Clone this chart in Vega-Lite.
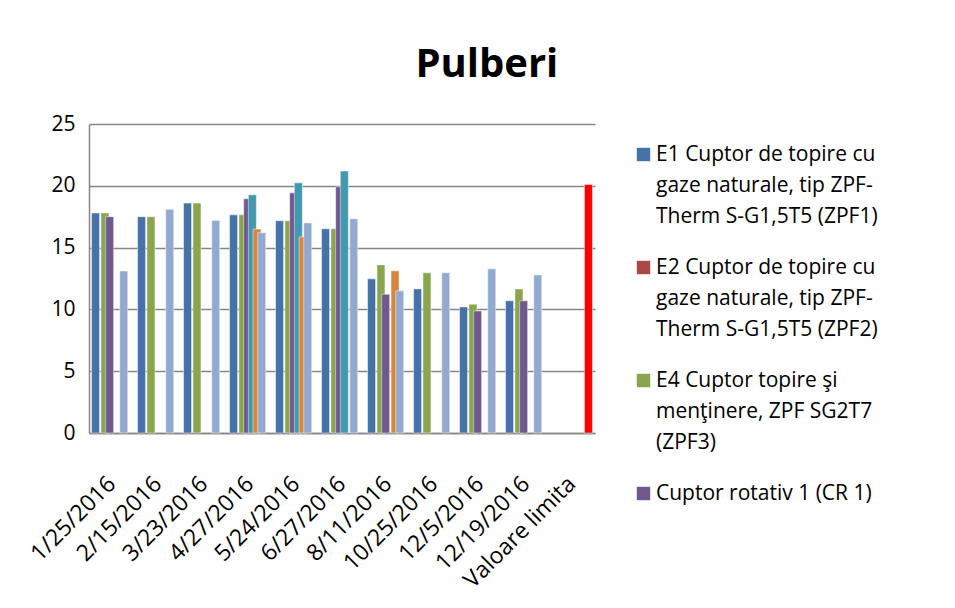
{
  "$schema": "https://vega.github.io/schema/vega-lite/v6.json",
  "width": 506,
  "height": 309,
  "padding": {"left": 26, "top": 45, "right": 5, "bottom": 5},
  "background": "white",
  "title": {
    "text": "Pulberi",
    "fontSize": 40,
    "font": "Open Sans",
    "fontWeight": "bold",
    "color": "#000000",
    "anchor": "middle",
    "frame": "bounds",
    "offset": 28,
    "dx": 19
  },
  "data": {
    "values": [
      {"data": "1/25/2016", "serie": "E1 Cuptor de topire cu gaze naturale, tip ZPF-Therm S-G1,5T5 (ZPF1)", "valoare": 17.8},
      {"data": "1/25/2016", "serie": "E4 Cuptor topire şi menţinere, ZPF SG2T7 (ZPF3)", "valoare": 17.8},
      {"data": "1/25/2016", "serie": "Cuptor rotativ 1 (CR 1)", "valoare": 17.5},
      {"data": "1/25/2016", "serie": "Cuptor rotativ 4 (CR 4)", "valoare": 13.1},
      {"data": "2/15/2016", "serie": "E1 Cuptor de topire cu gaze naturale, tip ZPF-Therm S-G1,5T5 (ZPF1)", "valoare": 17.5},
      {"data": "2/15/2016", "serie": "E4 Cuptor topire şi menţinere, ZPF SG2T7 (ZPF3)", "valoare": 17.5},
      {"data": "2/15/2016", "serie": "Cuptor rotativ 4 (CR 4)", "valoare": 18.1},
      {"data": "3/23/2016", "serie": "E1 Cuptor de topire cu gaze naturale, tip ZPF-Therm S-G1,5T5 (ZPF1)", "valoare": 18.6},
      {"data": "3/23/2016", "serie": "E4 Cuptor topire şi menţinere, ZPF SG2T7 (ZPF3)", "valoare": 18.6},
      {"data": "3/23/2016", "serie": "Cuptor rotativ 4 (CR 4)", "valoare": 17.2},
      {"data": "4/27/2016", "serie": "E1 Cuptor de topire cu gaze naturale, tip ZPF-Therm S-G1,5T5 (ZPF1)", "valoare": 17.65},
      {"data": "4/27/2016", "serie": "E4 Cuptor topire şi menţinere, ZPF SG2T7 (ZPF3)", "valoare": 17.65},
      {"data": "4/27/2016", "serie": "Cuptor rotativ 1 (CR 1)", "valoare": 18.95},
      {"data": "4/27/2016", "serie": "Cuptor rotativ 2 (CR 2)", "valoare": 19.27},
      {"data": "4/27/2016", "serie": "Cuptor rotativ 3 (CR 3)", "valoare": 16.5},
      {"data": "4/27/2016", "serie": "Cuptor rotativ 4 (CR 4)", "valoare": 16.2},
      {"data": "5/24/2016", "serie": "E1 Cuptor de topire cu gaze naturale, tip ZPF-Therm S-G1,5T5 (ZPF1)", "valoare": 17.17},
      {"data": "5/24/2016", "serie": "E4 Cuptor topire şi menţinere, ZPF SG2T7 (ZPF3)", "valoare": 17.17},
      {"data": "5/24/2016", "serie": "Cuptor rotativ 1 (CR 1)", "valoare": 19.43},
      {"data": "5/24/2016", "serie": "Cuptor rotativ 2 (CR 2)", "valoare": 20.24},
      {"data": "5/24/2016", "serie": "Cuptor rotativ 3 (CR 3)", "valoare": 15.87},
      {"data": "5/24/2016", "serie": "Cuptor rotativ 4 (CR 4)", "valoare": 17.0},
      {"data": "6/27/2016", "serie": "E1 Cuptor de topire cu gaze naturale, tip ZPF-Therm S-G1,5T5 (ZPF1)", "valoare": 16.52},
      {"data": "6/27/2016", "serie": "E4 Cuptor topire şi menţinere, ZPF SG2T7 (ZPF3)", "valoare": 16.52},
      {"data": "6/27/2016", "serie": "Cuptor rotativ 1 (CR 1)", "valoare": 19.92},
      {"data": "6/27/2016", "serie": "Cuptor rotativ 2 (CR 2)", "valoare": 21.19},
      {"data": "6/27/2016", "serie": "Cuptor rotativ 4 (CR 4)", "valoare": 17.33},
      {"data": "8/11/2016", "serie": "E1 Cuptor de topire cu gaze naturale, tip ZPF-Therm S-G1,5T5 (ZPF1)", "valoare": 12.47},
      {"data": "8/11/2016", "serie": "E4 Cuptor topire şi menţinere, ZPF SG2T7 (ZPF3)", "valoare": 13.6},
      {"data": "8/11/2016", "serie": "Cuptor rotativ 1 (CR 1)", "valoare": 11.23},
      {"data": "8/11/2016", "serie": "Cuptor rotativ 3 (CR 3)", "valoare": 13.12},
      {"data": "8/11/2016", "serie": "Cuptor rotativ 4 (CR 4)", "valoare": 11.5},
      {"data": "10/25/2016", "serie": "E1 Cuptor de topire cu gaze naturale, tip ZPF-Therm S-G1,5T5 (ZPF1)", "valoare": 11.66},
      {"data": "10/25/2016", "serie": "E4 Cuptor topire şi menţinere, ZPF SG2T7 (ZPF3)", "valoare": 12.96},
      {"data": "10/25/2016", "serie": "Cuptor rotativ 4 (CR 4)", "valoare": 12.96},
      {"data": "12/5/2016", "serie": "E1 Cuptor de topire cu gaze naturale, tip ZPF-Therm S-G1,5T5 (ZPF1)", "valoare": 10.2},
      {"data": "12/5/2016", "serie": "E4 Cuptor topire şi menţinere, ZPF SG2T7 (ZPF3)", "valoare": 10.42},
      {"data": "12/5/2016", "serie": "Cuptor rotativ 1 (CR 1)", "valoare": 9.88},
      {"data": "12/5/2016", "serie": "Cuptor rotativ 4 (CR 4)", "valoare": 13.28},
      {"data": "12/19/2016", "serie": "E1 Cuptor de topire cu gaze naturale, tip ZPF-Therm S-G1,5T5 (ZPF1)", "valoare": 10.69},
      {"data": "12/19/2016", "serie": "E4 Cuptor topire şi menţinere, ZPF SG2T7 (ZPF3)", "valoare": 11.66},
      {"data": "12/19/2016", "serie": "Cuptor rotativ 1 (CR 1)", "valoare": 10.69},
      {"data": "12/19/2016", "serie": "Cuptor rotativ 4 (CR 4)", "valoare": 12.79},
      {"data": "Valoare limita", "serie": "Valoare limita", "valoare": 20.1}
    ]
  },
  "mark": {"type": "bar", "width": 8, "stroke": "#ffffff", "strokeWidth": 0.6, "strokeOpacity": 0.8},
  "encoding": {
    "x": {
      "field": "data",
      "type": "nominal",
      "sort": null,
      "scale": {"paddingInner": 0.183, "paddingOuter": 0.0915},
      "axis": {
        "title": null,
        "labelAngle": -45,
        "labelAlign": "right",
        "labelBaseline": "middle",
        "labelFontSize": 23,
        "labelFont": "Open Sans",
        "labelColor": "#000000",
        "labelPadding": 47,
        "ticks": false,
        "domainColor": "#868686",
        "domainWidth": 1.5,
        "labelLimit": 300
      }
    },
    "xOffset": {
      "field": "serie",
      "type": "nominal",
      "scale": {
        "domain": [
          "E1 Cuptor de topire cu gaze naturale, tip ZPF-Therm S-G1,5T5 (ZPF1)",
          "E2 Cuptor de topire cu gaze naturale, tip ZPF-Therm S-G1,5T5 (ZPF2)",
          "E4 Cuptor topire şi menţinere, ZPF SG2T7 (ZPF3)",
          "Cuptor rotativ 1 (CR 1)",
          "Cuptor rotativ 2 (CR 2)",
          "Cuptor rotativ 3 (CR 3)",
          "Cuptor rotativ 4 (CR 4)",
          "Valoare limita"
        ],
        "paddingInner": 0,
        "paddingOuter": 0
      }
    },
    "y": {
      "field": "valoare",
      "type": "quantitative",
      "scale": {"domain": [0, 25]},
      "axis": {
        "title": null,
        "values": [0, 5, 10, 15, 20, 25],
        "labelFontSize": 21,
        "labelFont": "Open Sans",
        "labelColor": "#000000",
        "labelPadding": 14,
        "ticks": false,
        "domainColor": "#868686",
        "domainWidth": 1.5,
        "gridColor": "#868686",
        "gridWidth": 1.4,
        "gridOpacity": 1
      }
    },
    "color": {
      "field": "serie",
      "type": "nominal",
      "scale": {
        "domain": [
          "E1 Cuptor de topire cu gaze naturale, tip ZPF-Therm S-G1,5T5 (ZPF1)",
          "E2 Cuptor de topire cu gaze naturale, tip ZPF-Therm S-G1,5T5 (ZPF2)",
          "E4 Cuptor topire şi menţinere, ZPF SG2T7 (ZPF3)",
          "Cuptor rotativ 1 (CR 1)",
          "Cuptor rotativ 2 (CR 2)",
          "Cuptor rotativ 3 (CR 3)",
          "Cuptor rotativ 4 (CR 4)",
          "Valoare limita"
        ],
        "range": ["#4572A7", "#AA4643", "#89A54E", "#71588F", "#4198AF", "#DB843D", "#93A9CF", "#FF0000"]
      },
      "legend": {
        "title": null,
        "orient": "right",
        "offset": 18,
        "padding": 20,
        "values": [
          "E1 Cuptor de topire cu gaze naturale, tip ZPF-Therm S-G1,5T5 (ZPF1)",
          "E2 Cuptor de topire cu gaze naturale, tip ZPF-Therm S-G1,5T5 (ZPF2)",
          "E4 Cuptor topire şi menţinere, ZPF SG2T7 (ZPF3)",
          "Cuptor rotativ 1 (CR 1)"
        ],
        "labelExpr": "indexof(datum.label, 'E1') == 0 ? ['E1 Cuptor de topire cu', 'gaze naturale,   tip ZPF-', 'Therm S-G1,5T5   (ZPF1)'] : indexof(datum.label, 'E2') == 0 ? ['E2 Cuptor de topire cu', 'gaze naturale, tip ZPF-', 'Therm S-G1,5T5  (ZPF2)'] : indexof(datum.label, 'E4') == 0 ? ['E4 Cuptor  topire şi', 'menţinere, ZPF SG2T7', '(ZPF3)'] : 'Cuptor  rotativ 1 (CR  1)'",
        "labelFontSize": 21,
        "labelFont": "Open Sans",
        "labelColor": "#000000",
        "labelLimit": 400,
        "labelOffset": 2,
        "labelBaseline": "middle",
        "symbolType": "square",
        "symbolSize": 180,
        "symbolStrokeWidth": 0,
        "rowPadding": 29
      }
    }
  },
  "config": {
    "view": {"stroke": null},
    "style": {"guide-label": {"lineHeight": 31}}
  }
}
